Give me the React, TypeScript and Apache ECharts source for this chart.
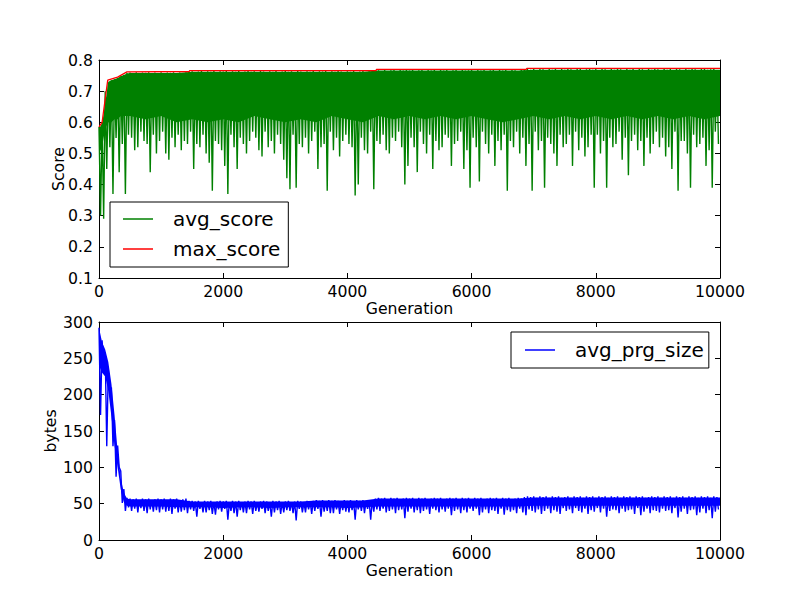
import { useEffect, useRef } from "react";
import * as echarts from "echarts";

const FONT = "DejaVu Sans";

// one sample column every 50 generations: the top and the bottom of the noisy band
const columnStep = 50;

const avgScoreHigh = [
  0.585, 0.6, 0.7, 0.728, 0.735, 0.738, 0.742, 0.748, 0.752, 0.758,
  0.76, 0.758, 0.761, 0.757, 0.76, 0.759, 0.761, 0.756, 0.76, 0.758,
  0.761, 0.757, 0.76, 0.759, 0.761, 0.758, 0.76, 0.756, 0.761, 0.762,
  0.764, 0.76, 0.763, 0.765, 0.761, 0.764, 0.762, 0.765, 0.76, 0.764,
  0.763, 0.765, 0.761, 0.764, 0.762, 0.765, 0.76, 0.763, 0.765, 0.762,
  0.764, 0.761, 0.765, 0.763, 0.76, 0.764, 0.762, 0.765, 0.761, 0.763,
  0.765, 0.762, 0.764, 0.76, 0.765, 0.763, 0.761, 0.764, 0.762, 0.765,
  0.761, 0.764, 0.763, 0.765, 0.76, 0.764, 0.762, 0.765, 0.763, 0.761,
  0.764, 0.762, 0.765, 0.761, 0.763, 0.765, 0.76, 0.764, 0.762, 0.768,
  0.767, 0.765, 0.768, 0.764, 0.767, 0.769, 0.765, 0.768, 0.766, 0.769,
  0.766, 0.768, 0.764, 0.767, 0.769, 0.765, 0.768, 0.766, 0.769, 0.764,
  0.768, 0.766, 0.769, 0.765, 0.767, 0.769, 0.764, 0.768, 0.766, 0.767,
  0.769, 0.765, 0.768, 0.766, 0.769, 0.764, 0.767, 0.768, 0.765, 0.769,
  0.766, 0.768, 0.765, 0.769, 0.767, 0.764, 0.768, 0.77, 0.771, 0.769,
  0.771, 0.768, 0.772, 0.77, 0.767, 0.771, 0.769, 0.772, 0.768, 0.771,
  0.769, 0.772, 0.77, 0.767, 0.771, 0.772, 0.768, 0.77, 0.772, 0.769,
  0.771, 0.768, 0.772, 0.77, 0.767, 0.771, 0.769, 0.772, 0.77, 0.768,
  0.772, 0.769, 0.771, 0.768, 0.772, 0.77, 0.767, 0.771, 0.769, 0.772,
  0.77, 0.768, 0.772, 0.769, 0.771, 0.767, 0.772, 0.77, 0.768, 0.771,
  0.769, 0.772, 0.77, 0.768, 0.771, 0.772, 0.769, 0.77, 0.772, 0.768,
];

const avgScoreLow = [
  0.3, 0.29, 0.45, 0.52, 0.37, 0.55, 0.44, 0.53, 0.37, 0.56,
  0.55, 0.51, 0.52, 0.57, 0.54, 0.53, 0.44, 0.56, 0.5, 0.54,
  0.57, 0.5, 0.48, 0.55, 0.52, 0.56, 0.51, 0.54, 0.53, 0.57,
  0.45, 0.53, 0.52, 0.56, 0.5, 0.47, 0.38, 0.54, 0.53, 0.51,
  0.46, 0.37, 0.56, 0.52, 0.45, 0.55, 0.53, 0.5, 0.54, 0.57,
  0.55, 0.51, 0.49, 0.57, 0.52, 0.54, 0.5, 0.56, 0.53, 0.48,
  0.42, 0.385, 0.56, 0.39, 0.53, 0.52, 0.55, 0.5, 0.54, 0.57,
  0.45, 0.52, 0.53, 0.38, 0.57, 0.51, 0.55, 0.49, 0.54, 0.56,
  0.53, 0.52, 0.365, 0.4, 0.55, 0.51, 0.5, 0.57, 0.385, 0.54,
  0.53, 0.56, 0.51, 0.5, 0.55, 0.54, 0.57, 0.52, 0.4, 0.46,
  0.55, 0.52, 0.44, 0.57, 0.53, 0.5, 0.56, 0.45, 0.54, 0.51,
  0.52, 0.56, 0.55, 0.46, 0.53, 0.54, 0.57, 0.45, 0.51, 0.39,
  0.55, 0.52, 0.41, 0.57, 0.53, 0.5, 0.56, 0.46, 0.54, 0.51,
  0.56, 0.38, 0.54, 0.52, 0.57, 0.5, 0.55, 0.46, 0.53, 0.38,
  0.57, 0.51, 0.54, 0.39, 0.55, 0.53, 0.5, 0.46, 0.56, 0.52,
  0.53, 0.56, 0.46, 0.57, 0.51, 0.55, 0.49, 0.52, 0.56, 0.39,
  0.56, 0.5, 0.54, 0.39, 0.55, 0.52, 0.53, 0.57, 0.48, 0.55,
  0.43, 0.54, 0.56, 0.51, 0.54, 0.46, 0.55, 0.5, 0.53, 0.57,
  0.52, 0.55, 0.49, 0.52, 0.45, 0.57, 0.38, 0.54, 0.54, 0.5,
  0.39, 0.56, 0.52, 0.53, 0.55, 0.46, 0.51, 0.39, 0.57, 0.53,
];

const maxScoreGen = [0, 50, 140, 300, 450, 1450, 1460, 4460, 4470, 6880, 6890, 10000];
const maxScore = [0.585, 0.6, 0.735, 0.745, 0.762, 0.763, 0.766, 0.766, 0.77, 0.77, 0.773, 0.773];

const prgSizeHigh = [
  292, 275, 258, 235, 210, 165, 130, 95, 70, 58,
  57, 56, 57, 55, 57, 56, 57, 55, 56, 57,
  56, 57, 55, 57, 56, 57, 55, 56, 57, 54,
  54, 53, 54, 52, 54, 53, 54, 52, 53, 54,
  53, 54, 52, 54, 53, 54, 52, 53, 54, 53,
  54, 52, 53, 54, 53, 52, 54, 53, 54, 52,
  53, 54, 52, 53, 54, 53, 52, 54, 53, 54,
  55, 54, 55, 53, 55, 54, 55, 54, 53, 55,
  54, 55, 53, 55, 54, 55, 53, 54, 55, 57,
  58, 57, 58, 56, 58, 57, 58, 56, 57, 58,
  57, 58, 56, 58, 57, 58, 56, 57, 58, 57,
  58, 56, 57, 58, 57, 58, 56, 58, 57, 58,
  56, 58, 57, 58, 56, 57, 58, 57, 58, 56,
  58, 57, 58, 56, 57, 58, 57, 59, 60, 59,
  60, 58, 60, 59, 60, 58, 60, 59, 60, 58,
  59, 60, 58, 60, 59, 60, 58, 60, 59, 60,
  58, 60, 59, 60, 58, 60, 59, 60, 58, 60,
  59, 60, 58, 60, 59, 60, 58, 59, 60, 59,
  60, 58, 60, 59, 60, 58, 60, 59, 60, 58,
  60, 59, 60, 58, 60, 59, 60, 58, 60, 59,
];

const prgSizeLow = [
  172, 235, 129, 200, 129, 87, 100, 51, 40, 45,
  40, 43, 38, 44, 40, 37, 42, 39, 41, 38,
  42, 39, 40, 36, 43, 38, 39, 41, 37, 42,
  40, 32, 43, 38, 38, 41, 36, 35, 42, 39,
  43, 28, 40, 37, 32, 41, 38, 37, 42, 36,
  40, 39, 43, 37, 40, 32, 38, 41, 36, 38,
  41, 40, 37, 27, 43, 38, 38, 42, 36, 40,
  43, 32, 39, 40, 37, 37, 42, 36, 41, 39,
  38, 41, 28, 42, 40, 37, 43, 28, 39, 42,
  40, 43, 38, 40, 42, 37, 41, 42, 30, 39,
  43, 38, 41, 37, 40, 42, 36, 43, 41, 38,
  42, 39, 43, 34, 40, 42, 37, 41, 38, 43,
  40, 43, 34, 38, 42, 37, 41, 40, 36, 43,
  35, 41, 39, 41, 37, 43, 38, 34, 42, 40,
  38, 42, 36, 40, 43, 37, 41, 39, 36, 44,
  40, 42, 37, 44, 40, 38, 43, 36, 41, 39,
  44, 38, 43, 32, 40, 42, 41, 37, 43, 39,
  41, 42, 36, 44, 34, 39, 43, 37, 41, 40,
  38, 43, 40, 41, 37, 44, 31, 39, 43, 36,
  41, 42, 34, 38, 43, 37, 41, 30, 39, 42,
];

// the solid core of each noisy band (where the raw lines overlap completely)
const coreGen = [
  0, 50, 100, 150, 200, 250, 300, 350, 400, 450, 500,
  750, 1000, 1250, 1500, 1750, 2000, 2250, 2500, 2750, 3000, 3250, 3500, 3750,
  4000, 4250, 4500, 4750, 5000, 5250, 5500, 5750, 6000, 6250, 6500, 6750,
  7000, 7250, 7500, 7750, 8000, 8250, 8500, 8750, 9000, 9250, 9500, 9750, 10000,
];
const scoreCoreLow = [
  0.5, 0.52, 0.58, 0.6, 0.6, 0.61, 0.61, 0.62, 0.62, 0.62, 0.62,
  0.61, 0.62, 0.6, 0.61, 0.6, 0.61, 0.6, 0.62, 0.61, 0.6, 0.61, 0.6, 0.62,
  0.61, 0.6, 0.62, 0.61, 0.62, 0.61, 0.62, 0.61, 0.62, 0.61, 0.6, 0.61,
  0.62, 0.61, 0.62, 0.61, 0.62, 0.61, 0.62, 0.61, 0.62, 0.61, 0.62, 0.61, 0.62,
];
const scoreCoreHigh = [
  0.58, 0.595, 0.66, 0.73, 0.735, 0.738, 0.742, 0.748, 0.752, 0.757, 0.758,
  0.758, 0.758, 0.758, 0.762, 0.762, 0.762, 0.762, 0.762, 0.762, 0.762, 0.762, 0.762, 0.762,
  0.762, 0.762, 0.766, 0.766, 0.766, 0.766, 0.766, 0.766, 0.766, 0.766, 0.766, 0.766,
  0.769, 0.769, 0.769, 0.769, 0.769, 0.769, 0.769, 0.769, 0.769, 0.769, 0.769, 0.769, 0.769,
];
const prgCoreLow = [
  240, 230, 225, 205, 170, 130, 100, 70, 52, 47, 46,
  46, 46, 45, 45, 45, 44, 45, 45, 44, 45, 45, 45, 45,
  44, 45, 46, 46, 46, 46, 46, 46, 46, 46, 46, 46,
  47, 47, 47, 47, 47, 47, 47, 47, 47, 47, 47, 47, 47,
];
const prgCoreHigh = [
  292, 272, 262, 245, 215, 172, 122, 85, 65, 57, 56,
  56, 56, 56, 53, 53, 53, 53, 53, 53, 53, 53, 54.5, 54.5,
  54.5, 54.5, 57, 57, 57, 57, 57, 57, 57, 57, 57, 57,
  58.5, 58.5, 58.5, 58.5, 58.5, 58.5, 58.5, 58.5, 58.5, 58.5, 58.5, 58.5, 58.5,
];

const genTicks = { min: 0, max: 10000, interval: 2000 };

// zigzag: the top of each column, then its bottom half a column later
function band(high: number[], low: number[]) {
  const out: [number, number][] = [];
  high.forEach((h, i) => {
    const g = i * columnStep;
    out.push([g, h]);
    out.push([g + columnStep / 2, low[i]]);
  });
  return out;
}

// the core as one polygon: along its top edge, then back along its bottom edge
function core(name: string, low: number[], high: number[], color: string, axisIndex: number) {
  return {
    name,
    type: "custom",
    xAxisIndex: axisIndex,
    yAxisIndex: axisIndex,
    silent: true,
    z: 1,
    data: coreGen.map((g, i) => [g, low[i], high[i]]),
    encode: { x: 0, y: [1, 2] },
    renderItem: (params: any, api: any) => {
      if (params.dataIndex !== 0) return null;
      const top = coreGen.map((g, i) => api.coord([g, high[i]]));
      const bottom = coreGen.map((g, i) => api.coord([g, low[i]])).reverse();
      return { type: "polygon", shape: { points: [...top, ...bottom] }, style: { fill: color } };
    },
  };
}

const text = { color: "#000", fontFamily: FONT, fontSize: 15.7 };

function xAxes(gridIndex: number) {
  const base = {
    gridIndex,
    type: "value",
    ...genTicks,
    axisLine: { show: true, onZero: false, lineStyle: { color: "#000", width: 1 } },
    axisTick: { show: true, inside: true, length: 5, lineStyle: { color: "#000" } },
    splitLine: { show: false },
  };
  return [
    {
      ...base,
      position: "bottom",
      name: "Generation",
      nameLocation: "middle",
      nameGap: 22,
      nameMoveOverlap: false,
      nameTextStyle: text,
      axisLabel: { ...text, margin: 5, formatter: (v: number) => String(v) },
    },
    { ...base, position: "top", axisLabel: { show: false } },
  ];
}

function yAxes(gridIndex: number, name: string, min: number, max: number, interval: number, nameGap: number, fmt: (v: number) => string) {
  const base = {
    gridIndex,
    type: "value",
    min,
    max,
    interval,
    axisLine: { show: true, onZero: false, lineStyle: { color: "#000", width: 1 } },
    axisTick: { show: true, inside: true, length: 5, lineStyle: { color: "#000" } },
    splitLine: { show: false },
  };
  return [
    {
      ...base,
      position: "left",
      name,
      nameLocation: "middle",
      nameGap,
      nameMoveOverlap: false,
      nameTextStyle: text,
      axisLabel: { ...text, margin: 6, formatter: fmt },
    },
    { ...base, position: "right", axisLabel: { show: false } },
  ];
}

const legendBase = {
  orient: "vertical",
  backgroundColor: "#fff",
  borderColor: "#000",
  borderWidth: 1,
  borderRadius: 0,
  icon: "rect",
  itemWidth: 30,
  itemHeight: 1.5,
  itemGap: 10,
  selectedMode: false,
  textStyle: { color: "#000", fontFamily: FONT, fontSize: 20, padding: [0, 0, 0, 15] },
};

export default function App() {
  const ref = useRef<HTMLDivElement>(null);

  useEffect(() => {
    if (!ref.current) return;
    const chart = echarts.init(ref.current, null, { renderer: "svg" });
    chart.setOption({
      animation: false,
      backgroundColor: "#fff",
      grid: [
        { left: 99, top: 60, width: 621, height: 218, outerBoundsMode: "none" },
        { left: 99, top: 322, width: 621, height: 218, outerBoundsMode: "none" },
      ],
      xAxis: [...xAxes(0), ...xAxes(1)],
      yAxis: [
        ...yAxes(0, "Score", 0.1, 0.8, 0.1, 33, (v) => v.toFixed(1)),
        ...yAxes(1, "bytes", 0, 300, 50, 41, (v) => String(v)),
      ],
      legend: [
        { ...legendBase, data: ["avg_score", "max_score"], left: 110, top: 202, padding: [7, 8, 8, 13] },
        { ...legendBase, data: ["avg_prg_size"], left: 511, top: 332, padding: [8, 5, 8, 14] },
      ],
      series: [
        core("avg_score core", scoreCoreLow, scoreCoreHigh, "#008000", 0),
        core("avg_prg_size core", prgCoreLow, prgCoreHigh, "#0000ff", 2),
        {
          name: "avg_score",
          type: "line",
          xAxisIndex: 0,
          yAxisIndex: 0,
          data: band(avgScoreHigh, avgScoreLow),
          symbol: "none",
          lineStyle: { color: "#008000", width: 1.4 },
          itemStyle: { color: "#008000" },
          z: 2,
        },
        {
          name: "max_score",
          type: "line",
          xAxisIndex: 0,
          yAxisIndex: 0,
          data: maxScoreGen.map((g, i) => [g, maxScore[i]]),
          symbol: "none",
          lineStyle: { color: "#ff0000", width: 1.3 },
          itemStyle: { color: "#ff0000" },
          z: 3,
        },
        {
          name: "avg_prg_size",
          type: "line",
          xAxisIndex: 2,
          yAxisIndex: 2,
          data: band(prgSizeHigh, prgSizeLow),
          symbol: "none",
          lineStyle: { color: "#0000ff", width: 1.4 },
          itemStyle: { color: "#0000ff" },
          z: 2,
        },
      ],
    });
    return () => chart.dispose();
  }, []);

  return <div ref={ref} style={{ position: "fixed", left: 0, top: 0, width: 800, height: 600 }} />;
}
